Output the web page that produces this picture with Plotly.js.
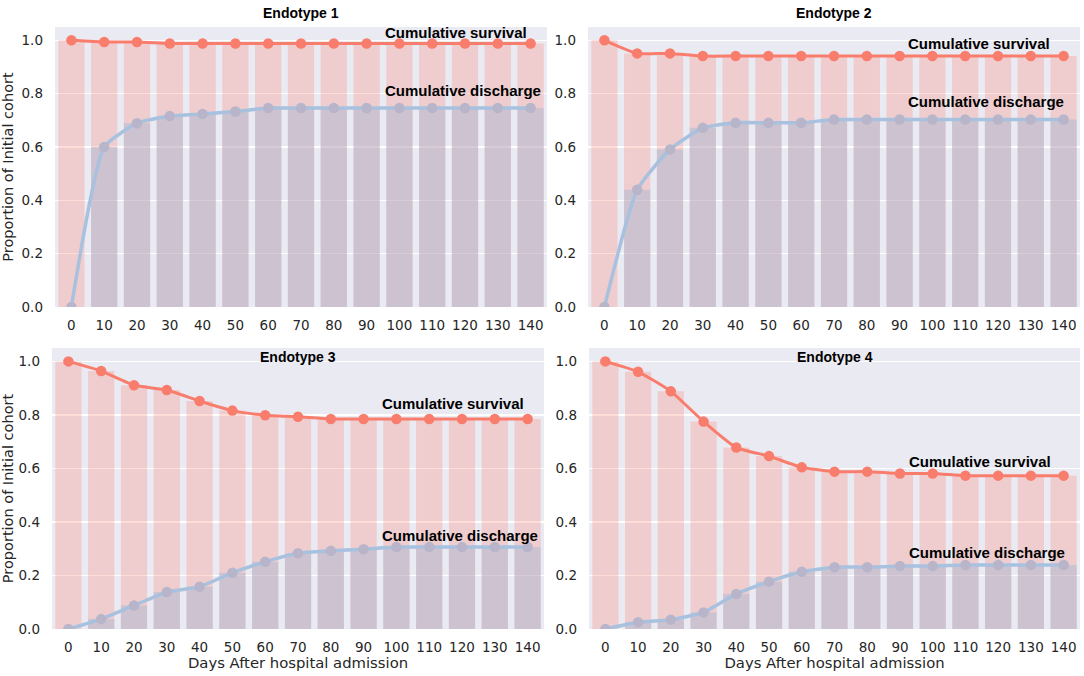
<!DOCTYPE html>
<html>
<head>
<meta charset="utf-8">
<script src="https://cdn.plot.ly/plotly-3.0.1.min.js"></script>
<style>html,body{margin:0;padding:0;background:#fff;}#chart{width:1084px;height:676px;}</style>
</head>
<body>
<div id="chart"></div>
<script>
const dayLabels = ["0","10","20","30","40","50","60","70","80","90","100","110","120","130","140"];
const yTicks = [0, 0.2, 0.4, 0.6, 0.8, 1.0];
const panelTitles = ["Endotype 1", "Endotype 2", "Endotype 3", "Endotype 4"];

const survival1 = [1.0,0.994,0.994,0.988,0.988,0.988,0.988,0.988,0.988,0.988,0.988,0.988,0.988,0.988,0.988];
const discharge1 = [0,0.60,0.689,0.716,0.724,0.733,0.746,0.746,0.746,0.746,0.746,0.746,0.746,0.746,0.746];
const survival2 = [1.0,0.951,0.951,0.941,0.941,0.941,0.941,0.941,0.941,0.941,0.941,0.941,0.941,0.941,0.941];
const discharge2 = [0,0.44,0.591,0.672,0.691,0.691,0.691,0.703,0.703,0.703,0.703,0.703,0.703,0.703,0.703];
const survival3 = [1.0,0.964,0.911,0.893,0.852,0.816,0.799,0.793,0.785,0.785,0.785,0.785,0.785,0.785,0.785];
const discharge3 = [0,0.037,0.088,0.138,0.158,0.21,0.251,0.283,0.292,0.298,0.306,0.306,0.306,0.306,0.306];
const survival4 = [1.0,0.961,0.888,0.775,0.678,0.646,0.604,0.588,0.588,0.581,0.581,0.573,0.573,0.573,0.573];
const discharge4 = [0,0.025,0.035,0.062,0.131,0.177,0.214,0.231,0.231,0.235,0.235,0.239,0.239,0.239,0.239];

const survivalSets = [survival1, survival2, survival3, survival4];
const dischargeSets = [discharge1, discharge2, discharge3, discharge4];

// label positions (category index, y value) for the in-panel labels
const survLabelPos = [[9.5,1.03],[9.2,0.989],[9.5,0.843],[9.2,0.627]];
const discLabelPos = [[9.5,0.813],[9.2,0.772],[9.5,0.35],[9.2,0.287]];

const W = 1084, H = 676;
const boxes = [ // left, right, top, bottom in px
  [55, 547, 27, 307],
  [588, 1080, 27, 307],
  [52, 544, 348, 629],
  [589, 1080, 348, 629]
];

const SURV = '#f97d6d';
const DISC = '#a7c1df';
const traces = [];
const layout = {
  width: W, height: H,
  margin: {l:0, r:0, t:0, b:0},
  paper_bgcolor: '#ffffff',
  plot_bgcolor: '#eaeaf2',
  showlegend: false,
  barmode: 'overlay',
  font: {family: 'DejaVu Sans', color: '#262626'},
  annotations: []
};

for (let i = 0; i < 4; i++) {
  const n = i === 0 ? '' : String(i + 1);
  const xa = 'x' + n, ya = 'y' + n;
  traces.push({type:'bar', x: dayLabels, y: survivalSets[i], xaxis: xa, yaxis: ya,
    width: 0.8, marker: {color: 'rgba(250,128,114,0.28)', line: {width: 0}}, hoverinfo: 'skip'});
  traces.push({type:'bar', x: dayLabels, y: dischargeSets[i], xaxis: xa, yaxis: ya,
    width: 0.8, marker: {color: 'rgba(150,176,210,0.38)', line: {width: 0}}, hoverinfo: 'skip'});
  traces.push({type:'scatter', mode:'lines+markers', x: dayLabels, y: dischargeSets[i], xaxis: xa, yaxis: ya,
    line: {color: DISC, width: 3.5, shape: 'spline', smoothing: 0.5},
    marker: {color: '#b8b5ca', size: 10.5}});
  traces.push({type:'scatter', mode:'lines+markers', x: dayLabels, y: survivalSets[i], xaxis: xa, yaxis: ya,
    line: {color: SURV, width: 3, shape: 'spline', smoothing: 0.5},
    marker: {color: SURV, size: 10.5}});

  const b = boxes[i];
  const isBottom = i >= 2, isLeft = (i % 2) === 0;
  layout['xaxis' + n] = {
    domain: [b[0]/W, b[1]/W], anchor: ya, type: 'category',
    range: [-0.5, 14.5], showgrid: false, zeroline: false, showline: false,
    ticks: '', ticklabelstandoff: 8,
    tickfont: {family: 'DejaVu Sans', size: 13.5, color: '#262626'},
    title: isBottom ? {text: 'Days After hospital admission', standoff: 3,
      font: {family: 'DejaVu Sans', size: 14.8, color: '#262626'}} : {text: ''}
  };
  layout['yaxis' + n] = {
    domain: [1 - b[3]/H, 1 - b[2]/H], anchor: xa,
    range: [0, 1.05], tickvals: yTicks, tickformat: '.1f',
    showgrid: true, gridcolor: '#ffffff', gridwidth: 1.5, zeroline: false, showline: false,
    ticks: '', ticklabelstandoff: 11,
    tickfont: {family: 'DejaVu Sans', size: 13.5, color: '#262626'},
    title: isLeft ? {text: 'Proportion of Initial cohort', standoff: 4,
      font: {family: 'DejaVu Sans', size: 14.5, color: '#262626'}} : {text: ''}
  };
  // panel title
  layout.annotations.push({
    xref: 'paper', yref: 'paper', x: (b[0] + b[1]) / 2 / W,
    y: 1 - (isBottom ? 357 : 13) / H, xanchor: 'center', yanchor: 'middle',
    text: '<b>' + panelTitles[i] + '</b>', showarrow: false,
    font: {family: 'Liberation Sans', size: 14, color: '#000000'}
  });
  layout.annotations.push({
    xref: xa, yref: ya, x: survLabelPos[i][0], y: survLabelPos[i][1],
    xanchor: 'left', yanchor: 'middle', text: '<b>Cumulative survival</b>', showarrow: false,
    font: {family: 'Liberation Sans', size: 15, color: '#000000'}
  });
  layout.annotations.push({
    xref: xa, yref: ya, x: discLabelPos[i][0], y: discLabelPos[i][1],
    xanchor: 'left', yanchor: 'middle', text: '<b>Cumulative discharge</b>', showarrow: false,
    font: {family: 'Liberation Sans', size: 15, color: '#000000'}
  });
}

Plotly.newPlot('chart', traces, layout, {staticPlot: true, displayModeBar: false});
</script>
</body>
</html>
